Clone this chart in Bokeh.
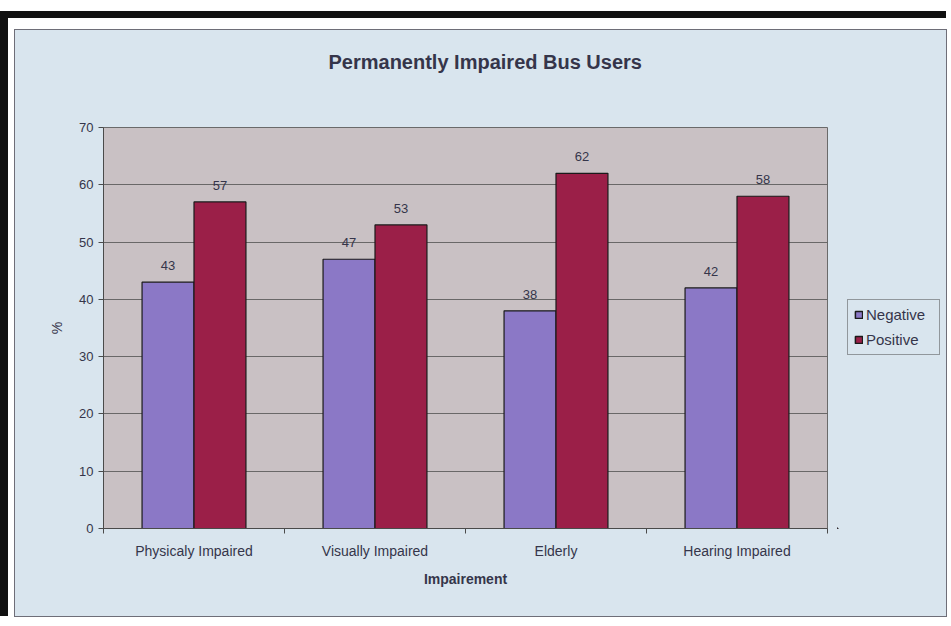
import numpy as np
from bokeh.plotting import figure
from bokeh.models import ColumnDataSource, FixedTicker, Legend, LegendItem, Range1d, Title
from bokeh.layouts import column, row
from bokeh.core.properties import value
from bokeh.embed import file_html
from bokeh.resources import INLINE

# Survey data: share of responses per impairment group (%)
categories = ["Physicaly Impaired", "Visually Impaired", "Elderly", "Hearing Impaired"]
negative = [43, 47, 38, 42]
positive = [57, 53, 62, 58]
series_names = ["Negative", "Positive"]
y_ticks = [0, 10, 20, 30, 40, 50, 60, 70]

FONT = "Liberation Sans"
TEXT = "#35354a"
CHART_BG = "#d9e5ee"
PLOT_BG = "#c9c1c4"
NEG_COLOR = "#8b78c6"
POS_COLOR = "#9b1f48"
EDGE = "#1a1a1a"

centers = np.arange(len(categories)) + 0.5
bar_w = 0.287

src = ColumnDataSource(dict(
    neg_x=centers - bar_w / 2,
    pos_x=centers + bar_w / 2,
    neg=negative,
    pos=positive,
    neg_lbl=[str(v) for v in negative],
    pos_lbl=[str(v) for v in positive],
))

# ---- main chart -------------------------------------------------------------
p = figure(
    width=822, height=586,
    x_range=(0, len(categories)), y_range=(0, 70),
    output_backend="svg", toolbar_location=None,
    min_border_left=88, min_border_right=10,
    min_border_top=97, min_border_bottom=88,
)
p.margin = 0
p.background_fill_color = PLOT_BG
p.border_fill_color = CHART_BG
p.outline_line_color = "#6a6a6a"
p.outline_line_width = 1
p.title.standoff = 0

# a blank band between the frame and the heading, then the heading itself
p.add_layout(Title(text=" ", text_font_size="2px", standoff=51), "above")
p.add_layout(Title(
    text="Permanently Impaired Bus Users",
    align="left", offset=225, standoff=0,
    text_font=FONT, text_font_size="20px", text_font_style="bold",
    text_color=TEXT,
), "above")

neg_r = p.vbar(x="neg_x", top="neg", width=bar_w, source=src,
               fill_color=NEG_COLOR, line_color=EDGE, line_width=1.2)
pos_r = p.vbar(x="pos_x", top="pos", width=bar_w, source=src,
               fill_color=POS_COLOR, line_color=EDGE, line_width=1.2)

# value labels above the bars
for xcol, ycol, lcol in (("neg_x", "neg", "neg_lbl"), ("pos_x", "pos", "pos_lbl")):
    p.text(x=xcol, y=ycol, text=lcol, source=src,
           text_align="center", text_baseline="bottom", y_offset=-12,
           text_font=value(FONT), text_font_size="13px", text_color=TEXT)

p.xgrid.grid_line_color = None
p.ygrid.grid_line_color = "#585858"
p.ygrid.grid_line_width = 1
p.ygrid.grid_line_alpha = 0.85

p.yaxis.ticker = FixedTicker(ticks=y_ticks)
p.yaxis.axis_label = "%"
p.yaxis.axis_label_text_font = FONT
p.yaxis.axis_label_text_font_size = "14px"
p.yaxis.axis_label_text_font_style = "normal"
p.yaxis.axis_label_text_color = TEXT
p.yaxis.axis_label_standoff = 11
p.yaxis.major_label_text_font = FONT
p.yaxis.major_label_text_font_size = "13px"
p.yaxis.major_label_text_color = TEXT
p.yaxis.major_label_standoff = 5
p.yaxis.major_tick_out = 5
p.yaxis.major_tick_in = 0
p.yaxis.minor_tick_line_color = None
p.yaxis.axis_line_color = "#4a4a4a"
p.yaxis.major_tick_line_color = "#4a4a4a"

# category names at the centres, tick marks on the category boundaries
p.xaxis.ticker = FixedTicker(ticks=list(centers),
                             minor_ticks=list(range(len(categories) + 1)))
p.xaxis.major_label_overrides = {float(c): name for c, name in zip(centers, categories)}
p.xaxis.axis_label = "Impairement"
p.xaxis.axis_label_text_font = FONT
p.xaxis.axis_label_text_font_size = "14px"
p.xaxis.axis_label_text_font_style = "bold"
p.xaxis.axis_label_text_color = TEXT
p.xaxis.axis_label_standoff = 9
p.xaxis.major_label_text_font = FONT
p.xaxis.major_label_text_font_size = "14px"
p.xaxis.major_label_text_color = TEXT
p.xaxis.major_label_standoff = 8
p.xaxis.major_tick_line_color = None
p.xaxis.minor_tick_in = 0
p.xaxis.minor_tick_out = 5
p.xaxis.minor_tick_line_color = "#4a4a4a"
p.xaxis.axis_line_color = "#4a4a4a"

# ---- legend strip to the right -----------------------------------------------
# The key glyphs share the bar data; the strip's ranges lie away from the bars
# so that only the legend is visible here.
lg = figure(
    width=109, height=586,
    x_range=Range1d(10, 11), y_range=Range1d(100, 101),
    output_backend="svg", toolbar_location=None,
    min_border_left=0, min_border_right=0, min_border_top=0, min_border_bottom=0,
)
lg.margin = 0
lg.background_fill_alpha = 0
lg.border_fill_color = CHART_BG
lg.outline_line_color = None
lg.axis.visible = False
lg.grid.grid_line_color = None

key_neg = lg.vbar(x="neg_x", top="neg", width=bar_w, source=src,
                  fill_color=NEG_COLOR, line_color=EDGE, line_width=1.5)
key_pos = lg.vbar(x="pos_x", top="pos", width=bar_w, source=src,
                  fill_color=POS_COLOR, line_color=EDGE, line_width=1.5)

legend = Legend(
    items=[LegendItem(label=series_names[0], renderers=[key_neg]),
           LegendItem(label=series_names[1], renderers=[key_pos])],
    location=(10, 173),
    margin=0, padding=6, spacing=8,
    glyph_width=9, glyph_height=9, label_standoff=3,
    label_text_font=FONT, label_text_font_size="15px", label_text_color=TEXT,
    label_height=16, label_width=67,
    background_fill_color=CHART_BG, background_fill_alpha=1,
    border_line_color="#4a4a4a", border_line_width=1,
)
lg.add_layout(legend, "center")

chart = row(p, lg, spacing=0, margin=(12, 0, 0, 7),
            styles={"outline": "1px solid #6e6e78", "background-color": CHART_BG})

page = column(
    chart,
    margin=(11, 0, 0, 0),
    styles={"border-top": "7px solid #111", "border-left": "8px solid #111",
            "background-color": "white"},
)

open("out.html", "w").write(file_html(page, INLINE))
